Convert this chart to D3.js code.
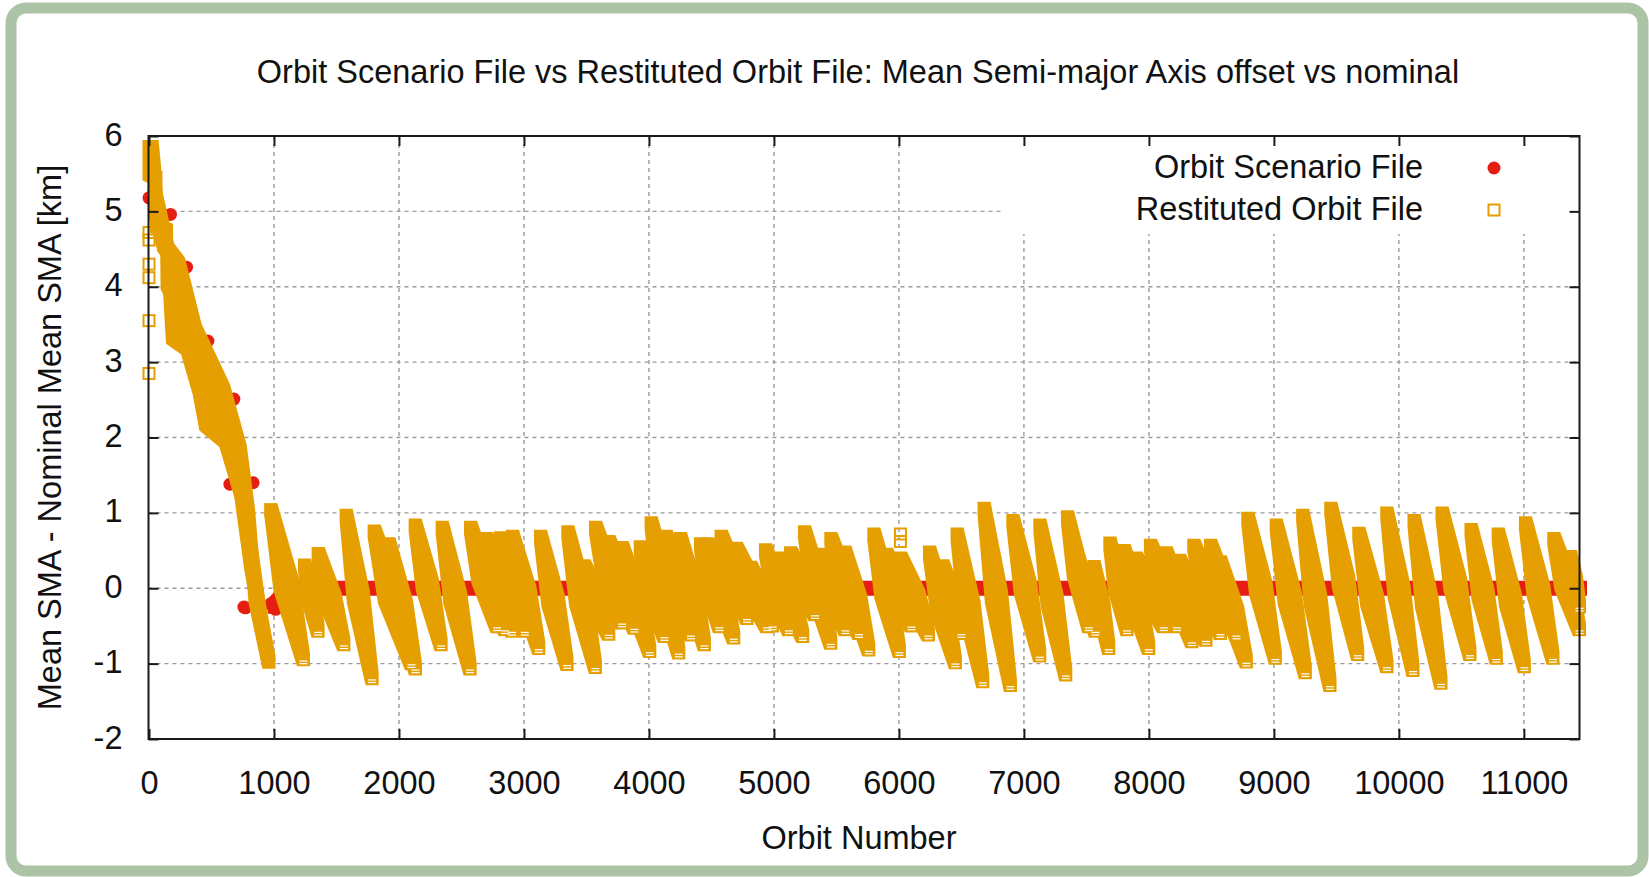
<!DOCTYPE html>
<html>
<head>
<meta charset="utf-8">
<script src="https://cdn.jsdelivr.net/npm/d3@7"></script>
<style>
  body { margin: 0; background: #fff; }
  svg text { font-family: "Liberation Sans", Arial, sans-serif; fill: #111; }
</style>
</head>
<body>
<div id="chart"></div>
<script>
// axis ticks
const xTickValues = [0, 1000, 2000, 3000, 4000, 5000, 6000, 7000, 8000, 9000, 10000, 11000];
const yTickValues = [-2, -1, 0, 1, 2, 3, 4, 5, 6];

// Orbit Scenario File: points visible during the initial decay + the flat nominal line
const scenarioPoints = [[0, 5.18], [172, 4.96], [300, 4.26], [471, 3.28], [679, 2.51],
  [647, 1.38], [833, 1.40], [772, -0.26], [759, -0.25], [972, -0.21], [1012, -0.28]];
const scenarioLine = [[1010, -0.24], [1150, 0], [11445, 0]];

// Restituted Orbit File: initial decay band (edges and middle), [orbit, km]
const decayLeft = [[0, 5.86], [0, 5.50], [55, 5.45], [60, 4.80], [140, 4.75], [145, 4.05], [165, 3.99],
  [188, 3.33], [308, 3.19], [401, 2.66], [455, 2.18], [615, 1.96], [735, 1.29], [815, 0.32], [959, -0.98]];
const decayMid = [[40, 5.30], [220, 3.95], [279, 3.33], [505, 2.53], [700, 1.65], [800, 0.70], [900, -0.50]];
const decayRight = [[25, 5.86], [45, 5.50], [49, 5.01], [120, 4.55], [236, 4.30], [369, 3.42], [596, 2.62],
  [729, 1.82], [796, 0.98], [849, -0.12], [959, -0.98]];

// Restituted Orbit File: decay arcs between manoeuvres [orbitStart, kmStart, orbitEnd, kmEnd]
const restitutedArcs = [
  [975, 1.04, 1236, -0.95], [1244, 0.31, 1353, -0.57], [1353, 0.46, 1559, -0.75], [1577, 0.97, 1785, -1.20],
  [1801, 0.76, 2100, -1.00], [1919, 0.59, 2132, -1.07], [2129, 0.84, 2337, -0.75], [2345, 0.81, 2569, -1.07],
  [2572, 0.81, 2785, -0.51], [2650, 0.52, 2850, -0.55], [2700, 0.66, 2905, -0.57], [2810, 0.67, 3007, -0.57],
  [2908, 0.69, 3119, -0.80], [3132, 0.69, 3345, -1.01], [3351, 0.75, 3572, -1.05], [3572, 0.81, 3785, -0.46],
  [3480, 0.30, 3679, -0.61], [3679, 0.62, 3884, -0.53], [3785, 0.54, 4007, -0.84], [3930, 0.55, 4124, -0.64],
  [4017, 0.87, 4239, -0.86], [4137, 0.69, 4337, -0.62], [4252, 0.66, 4444, -0.75], [4412, 0.59, 4564, -0.51],
  [4470, 0.59, 4679, -0.66], [4577, 0.69, 4785, -0.40], [4697, 0.53, 4945, -0.51], [4812, 0.28, 4990, -0.50],
  [4932, 0.51, 5119, -0.55], [5025, 0.40, 5231, -0.64], [5132, 0.47, 5330, -0.35], [5244, 0.75, 5455, -0.73],
  [5380, 0.45, 5572, -0.55], [5455, 0.66, 5680, -0.60], [5567, 0.48, 5759, -0.82], [5799, 0.72, 6004, -0.84],
  [5900, 0.45, 6100, -0.50], [6012, 0.40, 6236, -0.62], [6244, 0.48, 6452, -0.99], [6350, 0.30, 6500, -0.60],
  [6465, 0.72, 6671, -1.24], [6681, 1.06, 6892, -1.29], [6911, 0.90, 7127, -0.90], [7127, 0.84, 7335, -1.15],
  [7348, 0.95, 7519, -0.51], [7420, 0.45, 7572, -0.57], [7560, 0.29, 7679, -0.80], [7687, 0.60, 7825, -0.55],
  [7801, 0.50, 7999, -0.80], [7897, 0.40, 8119, -0.51], [8012, 0.57, 8225, -0.51], [8137, 0.47, 8345, -0.71],
  [8244, 0.37, 8457, -0.69], [8359, 0.57, 8572, -0.60], [8492, 0.57, 8700, -0.62], [8570, 0.35, 8780, -0.98],
  [8791, 0.93, 9012, -0.93], [9018, 0.84, 9252, -1.12], [9230, 0.97, 9449, -1.29], [9455, 1.06, 9671, -0.88],
  [9679, 0.73, 9905, -1.04], [9903, 1.00, 10113, -1.09], [10121, 0.90, 10337, -1.26], [10345, 1.00, 10569, -0.88],
  [10577, 0.78, 10780, -0.93], [10794, 0.72, 11004, -1.04], [11012, 0.87, 11233, -0.93], [11239, 0.66, 11445, -0.55],
  [11372, 0.42, 11445, -0.25]
];
// isolated restituted samples (drawn as hollow squares)
const restitutedSingles = [[0, 4.72], [0, 4.62], [0, 4.30], [0, 4.12], [0, 3.55], [0, 2.85], [975, 1.04], [6012, 0.72], [6012, 0.62]];

const orange = "#e69f00", red = "#e61e12";
const W = 1649, H = 877;

const svg = d3.select("#chart").append("svg")
  .attr("width", W).attr("height", H);

svg.append("rect").attr("width", W).attr("height", H).attr("fill", "#fff");
// green frame
svg.append("rect")
  .attr("x", 11).attr("y", 8).attr("width", 1632).attr("height", 863).attr("rx", 15)
  .attr("fill", "none").attr("stroke", "#adc3a6").attr("stroke-width", 11);

const x = d3.scaleLinear().domain([0, 11445]).range([149, 1579.5]);
const y = d3.scaleLinear().domain([-2, 6]).range([739, 136]);
const pLeft = 148.5, pRight = 1579.5, pTop = 136, pBottom = 739;

// grid
const grid = svg.append("g").attr("stroke", "#9a9a9a").attr("stroke-width", 1.4).attr("stroke-dasharray", "4,4");
grid.selectAll(".gx").data(xTickValues.slice(1)).enter().append("line")
  .attr("x1", d => x(d)).attr("x2", d => x(d)).attr("y1", pTop).attr("y2", pBottom);
grid.selectAll(".gy").data(yTickValues.slice(1, -1)).enter().append("line")
  .attr("x1", pLeft).attr("x2", pRight).attr("y1", d => y(d)).attr("y2", d => y(d));

// opaque key box
svg.append("rect").attr("x", 1004).attr("y", pTop + 1).attr("width", pRight - 1004).attr("height", 97).attr("fill", "#fff");

const h = 6.5; // half size of the square marker, px
const squareCorners = c => [[c[0] - h, c[1] - h], [c[0] + h, c[1] - h], [c[0] + h, c[1] + h], [c[0] - h, c[1] + h]];
const hullToPath = hull => "M" + hull.map(p => p[0].toFixed(2) + "," + p[1].toFixed(2)).join("L") + "Z";

// union of marker squares swept along a polyline
function sweptSquares(pts, hh) {
  const px = pts.map(p => [x(p[0]), y(p[1])]);
  if (px.length === 1) px.push(px[0]);
  let d = "";
  for (let i = 0; i < px.length - 1; i++) {
    const corners = [];
    [px[i], px[i + 1]].forEach(c => {
      corners.push([c[0] - hh, c[1] - hh], [c[0] + hh, c[1] - hh], [c[0] + hh, c[1] + hh], [c[0] - hh, c[1] + hh]);
    });
    d += hullToPath(d3.polygonHull(corners));
  }
  return d;
}

// one decay arc of the restituted file: the cloud of squares between the two samples
// is widest half way down, where the overlapping samples spread most
function arcCloud(a) {
  const len = a[2] - a[0], midO = (a[0] + a[2]) / 2, midV = (a[1] + a[3]) / 2;
  const pts = [[a[0], a[1]], [a[2], a[3]], [midO - 0.22 * len, midV], [midO + 0.16 * len, midV]];
  const corners = [];
  pts.forEach(p => squareCorners([x(p[0]), y(p[1])]).forEach(c => corners.push(c)));
  return hullToPath(d3.polygonHull(corners));
}

// Orbit Scenario File (drawn first, under the restituted data)
svg.append("path").attr("d", sweptSquares(scenarioLine, 7.5)).attr("fill", red);
svg.append("g").selectAll("circle").data(scenarioPoints).enter().append("circle")
  .attr("cx", d => x(d[0])).attr("cy", d => y(d[1])).attr("r", 6.5).attr("fill", red);

// Restituted Orbit File
const rest = svg.append("g");
rest.selectAll("path.decay").data([decayLeft, decayMid, decayRight]).enter().append("path")
  .attr("d", d => sweptSquares(d, h)).attr("fill", orange);
rest.selectAll("path.arc").data(restitutedArcs).enter().append("path")
  .attr("d", arcCloud).attr("fill", orange);
// the hollow interior of the last squares of each arc
const dashes = rest.append("g").attr("stroke", "#fff").attr("stroke-width", 1.2);
restitutedArcs.forEach(a => {
  const cx = x(a[2]), cy = y(a[3]);
  [1.2, 3.8].forEach(off => {
    dashes.append("line").attr("x1", cx - 4).attr("x2", cx + 4).attr("y1", cy + off).attr("y2", cy + off);
  });
});
rest.selectAll("rect").data(restitutedSingles).enter().append("rect")
  .attr("x", d => x(d[0]) - 5.5).attr("y", d => y(d[1]) - 5.5).attr("width", 11).attr("height", 11)
  .attr("fill", "none").attr("stroke", orange).attr("stroke-width", 2);

// border
svg.append("rect").attr("x", pLeft).attr("y", pTop).attr("width", pRight - pLeft).attr("height", pBottom - pTop)
  .attr("fill", "none").attr("stroke", "#1a1a1a").attr("stroke-width", 2);

// axes with inward ticks, mirrored
const fmt = d => String(d);
const styleAxis = g => {
  g.select(".domain").remove();
  g.selectAll(".tick line").attr("stroke", "#1a1a1a").attr("stroke-width", 2);
  g.selectAll(".tick text").attr("font-size", "32.5px").attr("fill", "#111")
    .attr("font-family", "'Liberation Sans', Arial, sans-serif");
};
svg.append("g").attr("transform", `translate(0,${pBottom})`)
  .call(d3.axisBottom(x).tickValues(xTickValues).tickFormat(fmt).tickSize(-10).tickPadding(32)).call(styleAxis);
svg.append("g").attr("transform", `translate(0,${pTop})`)
  .call(d3.axisTop(x).tickValues(xTickValues).tickFormat("").tickSize(-10)).call(styleAxis);
svg.append("g").attr("transform", `translate(${pLeft},0)`)
  .call(d3.axisLeft(y).tickValues(yTickValues).tickFormat(fmt).tickSize(-10).tickPadding(26)).call(styleAxis)
  .selectAll(".tick text").attr("dy", "0.28em");
svg.append("g").attr("transform", `translate(${pRight},0)`)
  .call(d3.axisRight(y).tickValues(yTickValues).tickFormat("").tickSize(-10)).call(styleAxis);

// titles
svg.append("text").attr("x", 858).attr("y", 83).attr("text-anchor", "middle").attr("font-size", "32.5px")
  .text("Orbit Scenario File vs Restituted Orbit File: Mean Semi-major Axis offset vs nominal");
svg.append("text").attr("x", 859).attr("y", 849).attr("text-anchor", "middle").attr("font-size", "32.5px")
  .text("Orbit Number");
svg.append("text").attr("transform", "translate(61,437.5) rotate(-90)").attr("text-anchor", "middle")
  .attr("font-size", "32.5px").text("Mean SMA - Nominal Mean SMA [km]");

// key
const key = svg.append("g");
key.append("text").attr("x", 1423).attr("y", 177.5).attr("text-anchor", "end").attr("font-size", "32.5px")
  .text("Orbit Scenario File");
key.append("text").attr("x", 1423).attr("y", 219.5).attr("text-anchor", "end").attr("font-size", "32.5px")
  .text("Restituted Orbit File");
key.append("circle").attr("cx", 1494).attr("cy", 168).attr("r", 6.5).attr("fill", red);
key.append("rect").attr("x", 1488.5).attr("y", 204.5).attr("width", 11).attr("height", 11)
  .attr("fill", "none").attr("stroke", orange).attr("stroke-width", 2);
</script>
</body>
</html>
